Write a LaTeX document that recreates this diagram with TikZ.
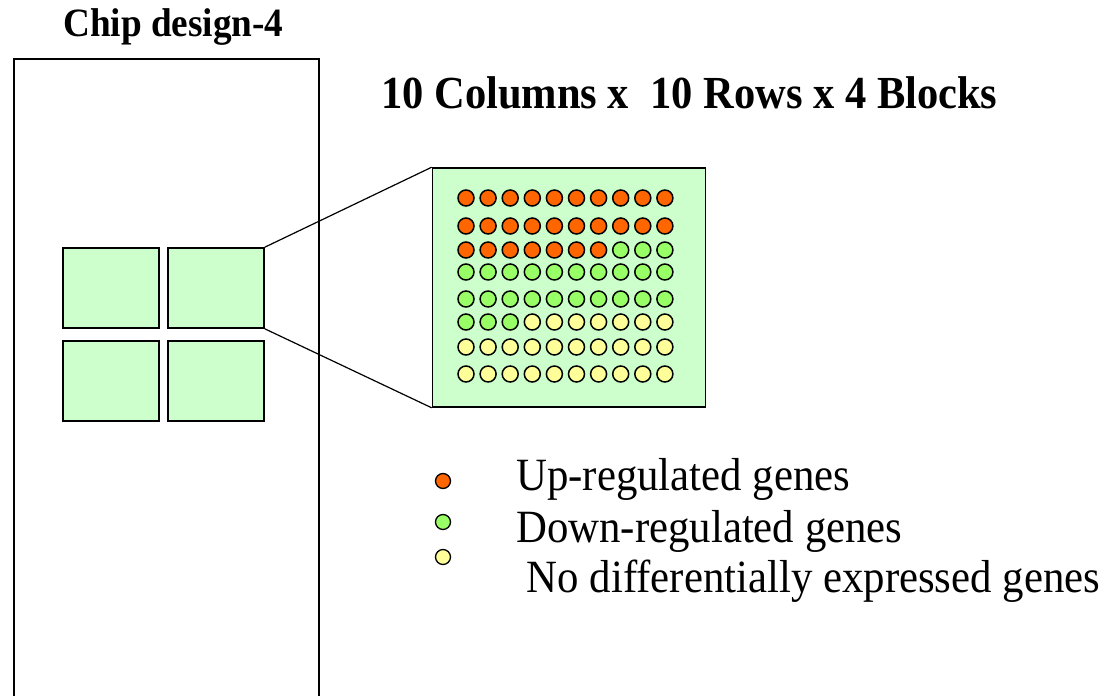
\documentclass[tikz,border=0pt]{standalone}
\usepackage{fontspec}
\setmainfont{Liberation Serif}
\usetikzlibrary{positioning}
\definecolor{blockgreen}{RGB}{204,255,204}
\definecolor{upred}{RGB}{255,102,0}
\definecolor{downgreen}{RGB}{153,255,102}
\definecolor{noyellow}{RGB}{255,255,153}
\newcommand{\tallbox}[1]{\scalebox{1}[1.08]{#1}}

\begin{document}
\begin{tikzpicture}[
    x=1pt, y=-1pt,
    every node/.style={font=\rmfamily},
    block/.style={rectangle, draw=black, line width=1.6pt, fill=blockgreen, minimum width=96pt, minimum height=80pt, inner sep=0pt},
    inset/.style={rectangle, draw=black, line width=1.6pt, fill=blockgreen, minimum width=273pt, minimum height=239pt, inner sep=0pt},
    dot/.style={circle, draw=black, line width=1.5pt, minimum size=16pt, inner sep=0pt},
    keydot/.style={circle, draw=black, line width=1.3pt, minimum size=15pt, inner sep=0pt},
    title/.style={font=\fontsize{42.5}{48}\selectfont\bfseries, inner sep=0pt, anchor=west},
    keytext/.style={font=\fontsize{42.8}{48}\selectfont, inner sep=0pt, anchor=west},
    zoomline/.style={line width=1.2pt}
]
\useasboundingbox (0,0) rectangle (1106,696);

% Chip outline (open at the bottom)
\draw[line width=1.2pt] (14,700) -- (14,59) -- (319,59) -- (319,700);
\node[title, font=\fontsize{37.2}{42}\selectfont\bfseries] (chip) at (63,27) {\tallbox{Chip design-4}};

% Four blocks
\node[block] (blk1) at (111,288) {};
\node[block] (blk2) at (216,288) {};
\node[block] (blk3) at (111,381) {};
\node[block] (blk4) at (216,381) {};

% Heading
\node[title] (head) at (381,93) {\tallbox{10 Columns x\ \ 10 Rows x 4 Blocks}};

% Magnified block
\node[inset] (zoom) at (569,287.5) {};
\draw[zoomline] (blk2.north east) -- (zoom.north west);
\draw[zoomline] (blk2.south east) -- (zoom.south west);

% Spots: last up column / last down column per row
\foreach \r/\yy/\no/\ng in {1/198/10/10, 2/226/10/10, 3/250/7/10, 4/272/0/10,
                            5/299/0/10, 6/322/0/3, 7/347/0/0, 8/374/0/0}{
  \foreach \c in {1,...,10}{
    \ifnum\c>\ng \def\dc{noyellow}\else\ifnum\c>\no \def\dc{downgreen}\else\def\dc{upred}\fi\fi
    \node[dot, fill=\dc] (d\r-\c) at ({466+(\c-1)*22.1},\yy) {};
  }
}

% Legend
\node[keydot, fill=upred] (kup) at (443,481) {};
\node[keydot, fill=downgreen] (kdown) at (443,522) {};
\node[keydot, fill=noyellow] (kno) at (443,557) {};
\node[keytext] (tup) at (516,479) {\tallbox{Up-regulated genes}};
\node[keytext] (tdown) at (516,531) {\tallbox{Down-regulated genes}};
\node[keytext] (tno) at (516,581) {\tallbox{\ No differentially expressed genes}};

\end{tikzpicture}
\end{document}
